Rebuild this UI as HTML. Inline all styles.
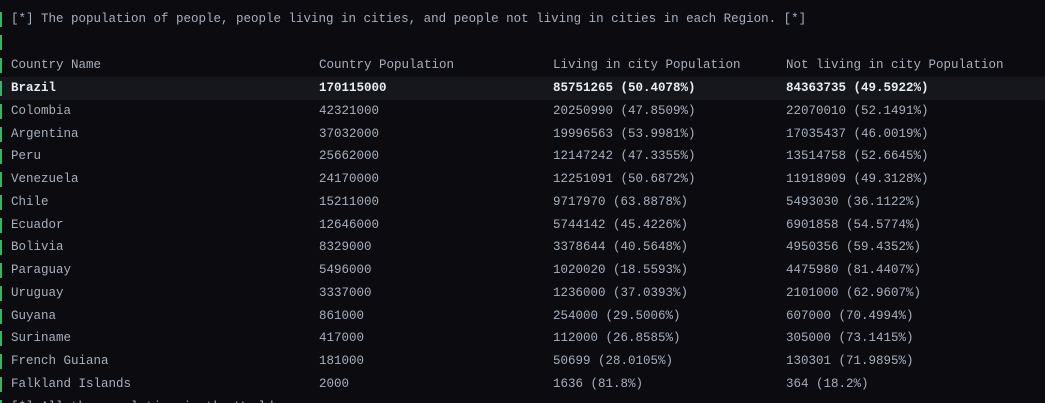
<!DOCTYPE html>
<html><head><meta charset="utf-8"><style>
html,body{margin:0;padding:0;width:1045px;height:403px;overflow:hidden;background:#0c0c10;}
body{position:relative;font-family:"Liberation Mono","DejaVu Sans Mono",monospace;font-size:12.5px;color:#a6b0bd;}
.ln{position:absolute;left:0;width:1045px;height:23px;}
.bar{position:absolute;left:0;top:4px;width:2px;height:15px;background:#3fb068;}
.t{position:absolute;top:4px;line-height:15px;white-space:pre;}
.hl{background:#16171c;color:#e8edf2;font-weight:bold;}
</style></head><body>
<div id="root"></div>
<script>
const titleText = "[*] The population of people, people living in cities, and people not living in cities in each Region. [*]";
const headers = ["Country Name","Country Population","Living in city Population","Not living in city Population"];
const countries = ["Brazil","Colombia","Argentina","Peru","Venezuela","Chile","Ecuador","Bolivia","Paraguay","Uruguay","Guyana","Suriname","French Guiana","Falkland Islands"];
const populations = ["170115000","42321000","37032000","25662000","24170000","15211000","12646000","8329000","5496000","3337000","861000","417000","181000","2000"];
const cityPop = ["85751265 (50.4078%)","20250990 (47.8509%)","19996563 (53.9981%)","12147242 (47.3355%)","12251091 (50.6872%)","9717970 (63.8878%)","5744142 (45.4226%)","3378644 (40.5648%)","1020020 (18.5593%)","1236000 (37.0393%)","254000 (29.5006%)","112000 (26.8585%)","50699 (28.0105%)","1636 (81.8%)"];
const nonCityPop = ["84363735 (49.5922%)","22070010 (52.1491%)","17035437 (46.0019%)","13514758 (52.6645%)","11918909 (49.3128%)","5493030 (36.1122%)","6901858 (54.5774%)","4950356 (59.4352%)","4475980 (81.4407%)","2101000 (62.9607%)","607000 (70.4994%)","305000 (73.1415%)","130301 (71.9895%)","364 (18.2%)"];
const footerText = "[*] All the population in the World...";
const colX = [11,319,553,786];
const root = document.getElementById('root');
function line(y, cells, name, cls){
  const d=document.createElement('div');
  d.className='ln'+(cls?' '+cls:'');
  d.style.top=Math.round(y)+'px';
  
  
  const b=document.createElement('div');b.className='bar';
  
  
  d.appendChild(b);
  cells.forEach((c,i)=>{
    const s=document.createElement('div');s.className='t';
    s.style.left=colX[i]+'px';s.textContent=c;
    
    
    d.appendChild(s);
  });
  root.appendChild(d);
}
const rowH = 22.77;
line(8,[titleText],'title-line');
line(31,[],'empty-line');
line(54,headers,'header-row');
countries.forEach((c,i)=>{
  line(77+i*rowH,[c,populations[i],cityPop[i],nonCityPop[i]],'row-'+c.toLowerCase().replace(/ /g,'-'), i===0?'hl':'');
});
line(77+countries.length*rowH,[footerText],'footer-line');
</script>
</body></html>
